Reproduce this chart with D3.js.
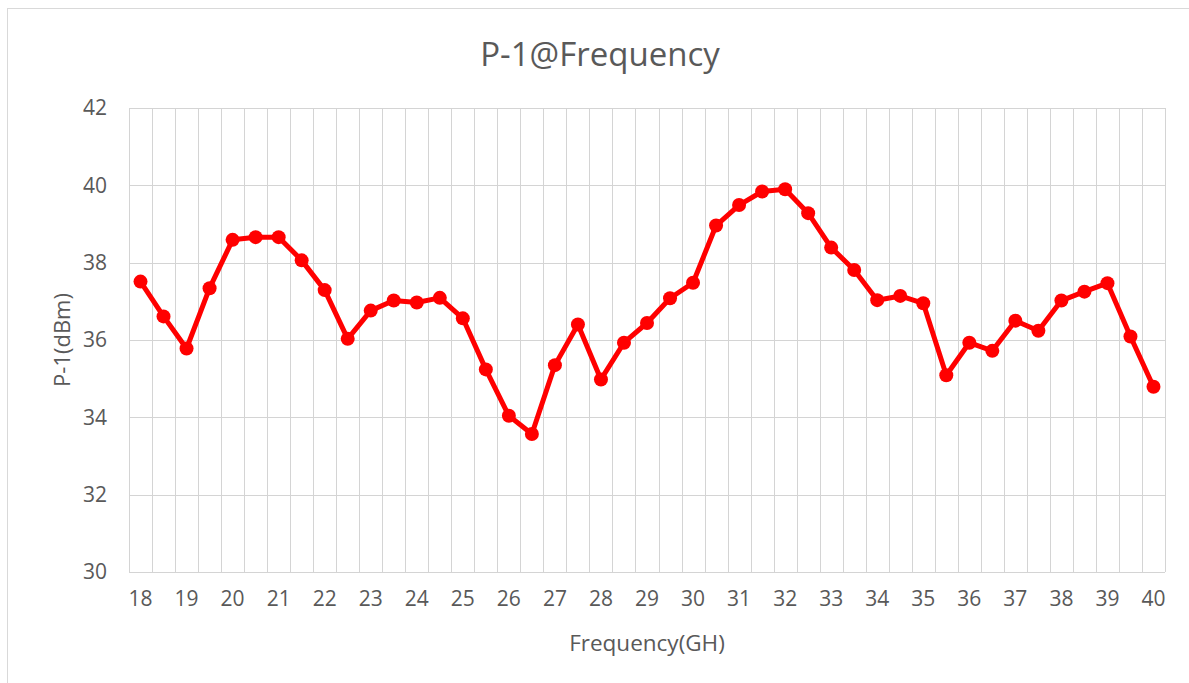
<!DOCTYPE html>
<html>
<head>
<meta charset="utf-8">
<script src="https://cdn.jsdelivr.net/npm/d3@7"></script>
<style>
html,body{margin:0;padding:0;background:#fff;}
svg{display:block;}
text{font-family:"Open Sans","Noto Sans",sans-serif;fill:#595959;}
</style>
</head>
<body>
<svg id="chart" width="1189" height="683"></svg>
<script>
const frequencies = [18,18.5,19,19.5,20,20.5,21,21.5,22,22.5,23,23.5,24,24.5,25,25.5,26,26.5,27,27.5,28,28.5,29,29.5,30,30.5,31,31.5,32,32.5,33,33.5,34,34.5,35,35.5,36,36.5,37,37.5,38,38.5,39,39.5,40];
const p1Values = [37.51,36.61,35.78,37.34,38.59,38.66,38.66,38.06,37.29,36.03,36.76,37.02,36.97,37.09,36.56,35.24,34.04,33.57,35.35,36.4,34.98,35.93,36.44,37.08,37.48,38.96,39.49,39.84,39.9,39.28,38.39,37.81,37.03,37.14,36.95,35.09,35.93,35.72,36.5,36.24,37.02,37.25,37.47,36.09,34.79];
const xTickLabels = [18,19,20,21,22,23,24,25,26,27,28,29,30,31,32,33,34,35,36,37,38,39,40];
const yTicks = [30,32,34,36,38,40,42];
const chartTitle = "P-1@Frequency";
const xAxisTitle = "Frequency(GH)";
const yAxisTitle = "P-1(dBm)";

const svg = d3.select("#chart");
const W = 1189, H = 683;
const plot = {left:129, right:1165, top:108, bottom:572};

// chart frame
svg.append("rect").attr("x",7.5).attr("y",8.5).attr("width",W).attr("height",H)
  .attr("fill","#fff").attr("stroke","#d9d9d9").attr("stroke-width",1);

const x = d3.scaleBand().domain(frequencies.map(String)).range([plot.left, plot.right]).paddingInner(0).paddingOuter(0);
const y = d3.scaleLinear().domain([30,42]).range([plot.bottom, plot.top]);

// horizontal gridlines
svg.append("g").selectAll("line").data(yTicks).join("line")
  .attr("x1",plot.left).attr("x2",plot.right)
  .attr("y1",d=>Math.round(y(d))+0.5).attr("y2",d=>Math.round(y(d))+0.5)
  .attr("stroke","#d4d4d4").attr("stroke-width",1);

// vertical gridlines at category boundaries
const bounds = frequencies.map(f=>x(String(f))).concat([x(String(frequencies[frequencies.length-1]))+x.bandwidth()]);
svg.append("g").selectAll("line").data(bounds).join("line")
  .attr("x1",d=>Math.round(d)+0.5).attr("x2",d=>Math.round(d)+0.5)
  .attr("y1",plot.top).attr("y2",plot.bottom)
  .attr("stroke","#d4d4d4").attr("stroke-width",1);

// y axis labels
const yAxis = d3.axisLeft(y).tickValues(yTicks).tickSize(0).tickPadding(0);
const gy = svg.append("g").attr("transform",`translate(${plot.left-22},0)`).call(yAxis);
gy.select(".domain").remove();
gy.selectAll("text").attr("font-size",21).attr("fill","#595959").attr("font-family",'"Open Sans",sans-serif');

// x axis labels
const xAxis = d3.axisBottom(x).tickValues(xTickLabels.map(String)).tickSize(0).tickPadding(0);
const gx = svg.append("g").attr("transform",`translate(0,${plot.bottom+19})`).call(xAxis);
gx.select(".domain").remove();
gx.selectAll("text").attr("font-size",21).attr("fill","#595959").attr("font-family",'"Open Sans",sans-serif');

// line
const cx = f => x(String(f)) + x.bandwidth()/2;
const line = d3.line().x((d,i)=>cx(frequencies[i])).y(d=>y(d));
svg.append("path").datum(p1Values).attr("d",line)
  .attr("fill","none").attr("stroke","#ff0000").attr("stroke-width",5).attr("stroke-linejoin","round");
svg.append("g").selectAll("circle").data(p1Values).join("circle")
  .attr("cx",(d,i)=>cx(frequencies[i])).attr("cy",d=>y(d)).attr("r",7).attr("fill","#ff0000");

// titles
svg.append("text").attr("x",600).attr("y",66).attr("text-anchor","middle")
  .attr("font-size",33).text(chartTitle);
svg.append("text").attr("x",(plot.left+plot.right)/2).attr("y",651).attr("text-anchor","middle")
  .attr("font-size",22.5).text(xAxisTitle);
svg.append("text").attr("transform",`translate(70,${(plot.top+plot.bottom)/2}) rotate(-90)`).attr("text-anchor","middle")
  .attr("font-size",22).text(yAxisTitle);
</script>
</body>
</html>
